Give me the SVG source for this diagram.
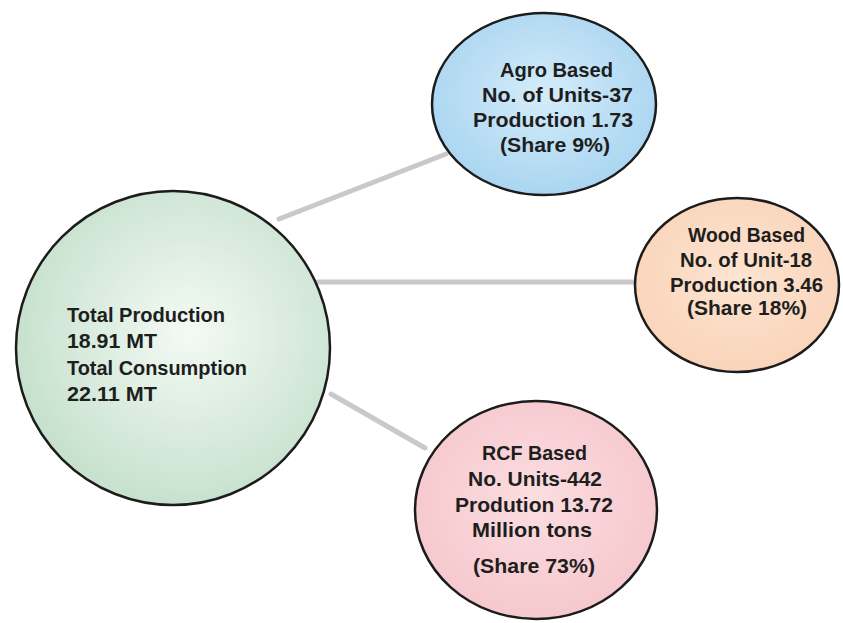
<svg xmlns="http://www.w3.org/2000/svg" width="843" height="623" viewBox="0 0 843 623">
<defs>
<radialGradient id="gGreen" cx="0.55" cy="0.45" r="0.6"><stop offset="0" stop-color="#f4faf4"/><stop offset="1" stop-color="#c3dfcb"/></radialGradient>
<radialGradient id="gBlue" cx="0.5" cy="0.45" r="0.6"><stop offset="0" stop-color="#d4ecfa"/><stop offset="1" stop-color="#a6d3f0"/></radialGradient>
<radialGradient id="gPeach" cx="0.5" cy="0.45" r="0.6"><stop offset="0" stop-color="#fde4d1"/><stop offset="1" stop-color="#f9d3b8"/></radialGradient>
<radialGradient id="gPink" cx="0.5" cy="0.45" r="0.6"><stop offset="0" stop-color="#fbdde0"/><stop offset="1" stop-color="#f5c6cc"/></radialGradient>
</defs>
<style>
.node{stroke:#1c1c1c;stroke-width:2.5}
.lbl{font-family:"Liberation Sans",Arial,sans-serif;font-weight:bold;font-size:21px;fill:#1e1e1e}
.conn{stroke:#c9c9c9;stroke-width:5;stroke-linecap:round;fill:none}
</style>
<rect width="843" height="623" fill="#ffffff"/>
<g id="connectors">
<line class="conn" x1="279" y1="219" x2="446" y2="154"/>
<line class="conn" x1="318" y1="282" x2="638" y2="282"/>
<line class="conn" x1="331" y1="394" x2="425" y2="448"/>
</g>
<g id="total">
<circle class="node" cx="173" cy="348" r="157" fill="url(#gGreen)"/>
<text class="lbl" x="67" y="322" textLength="158" lengthAdjust="spacingAndGlyphs">Total Production</text>
<text class="lbl" x="67" y="348" textLength="90" lengthAdjust="spacingAndGlyphs">18.91 MT</text>
<text class="lbl" x="67" y="375" textLength="180" lengthAdjust="spacingAndGlyphs">Total Consumption</text>
<text class="lbl" x="67" y="401" textLength="90" lengthAdjust="spacingAndGlyphs">22.11 MT</text>
</g>
<g id="agro">
<ellipse class="node" cx="544" cy="104" rx="112" ry="91" fill="url(#gBlue)"/>
<text class="lbl" x="500" y="77" textLength="113" lengthAdjust="spacingAndGlyphs">Agro Based</text>
<text class="lbl" x="482" y="102" textLength="151" lengthAdjust="spacingAndGlyphs">No. of Units-37</text>
<text class="lbl" x="473" y="127" textLength="160" lengthAdjust="spacingAndGlyphs">Production 1.73</text>
<text class="lbl" x="500" y="152" textLength="110" lengthAdjust="spacingAndGlyphs">(Share 9%)</text>
</g>
<g id="wood">
<ellipse class="node" cx="737" cy="285" rx="102" ry="87" fill="url(#gPeach)"/>
<text class="lbl" x="688" y="242" textLength="117" lengthAdjust="spacingAndGlyphs">Wood Based</text>
<text class="lbl" x="680" y="267" textLength="132" lengthAdjust="spacingAndGlyphs">No. of Unit-18</text>
<text class="lbl" x="670" y="292" textLength="153" lengthAdjust="spacingAndGlyphs">Production 3.46</text>
<text class="lbl" x="687" y="315" textLength="120" lengthAdjust="spacingAndGlyphs">(Share 18%)</text>
</g>
<g id="rcf">
<ellipse class="node" cx="536" cy="510" rx="121" ry="109" fill="url(#gPink)"/>
<text class="lbl" x="482" y="460" textLength="105" lengthAdjust="spacingAndGlyphs">RCF Based</text>
<text class="lbl" x="468" y="486" textLength="134" lengthAdjust="spacingAndGlyphs">No. Units-442</text>
<text class="lbl" x="455" y="512" textLength="158" lengthAdjust="spacingAndGlyphs">Prodution 13.72</text>
<text class="lbl" x="472" y="537" textLength="120" lengthAdjust="spacingAndGlyphs">Million tons</text>
<text class="lbl" x="473" y="573" textLength="122" lengthAdjust="spacingAndGlyphs">(Share 73%)</text>
</g>
</svg>
